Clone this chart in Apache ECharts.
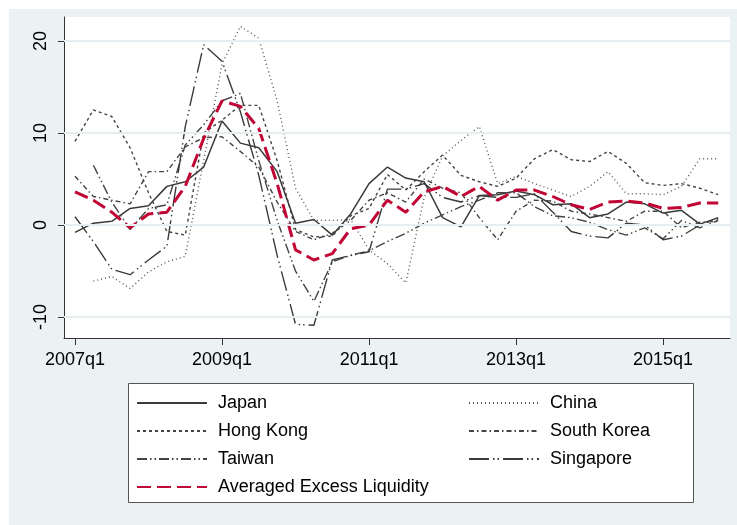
<!DOCTYPE html>
<html><head><meta charset="utf-8">
<script src="https://cdn.jsdelivr.net/npm/echarts@6/dist/echarts.min.js"></script>
<style>html,body{margin:0;padding:0;background:#fff}#c{width:737px;height:525px}</style>
</head><body><div id="c"></div>
<script>
// x positions are quarter indices: 0 = 2007q1 ... 35 = 2015q4
const tickIndex = [0, 8, 16, 24, 32];
const tickLabels = ['2007q1', '2009q1', '2011q1', '2013q1', '2015q1'];
const yTicks = [-10, 0, 10, 20];

const japan      = [-0.8, 0.2, 0.4, 1.8, 2.1, 4.2, 4.7, 6.3, 11.3, 8.9, 8.4, 5.8, 0.2, 0.6, -1.1, 1.2, 4.5, 6.3, 5.1, 4.7, 0.8, -0.2, 3.2, 3.3, 3.7, 3.3, 2.2, 2.3, 0.8, 1.2, 2.5, 2.3, 1.3, 1.6, 0.1, 0.8];
const china      = [null, -6.1, -5.6, -6.9, -5.1, -4.0, -3.4, 7.0, 17.5, 21.6, 20.3, 13.5, 4.0, 0.5, 0.5, 0.6, -2.7, -4.2, -6.3, 3.0, 7.5, 9.2, 10.7, 4.5, 5.3, 4.5, 3.8, 3.1, 4.2, 5.8, 3.4, 3.4, 3.3, 4.2, 7.2, 7.2];
const hongKong   = [9.1, 12.5, 11.8, 8.4, 3.5, -0.7, -1.1, 10.0, 11.4, 13.0, 13.0, 7.0, -0.5, -1.3, -1.2, 1.0, 1.8, 5.5, 3.8, 5.8, 7.6, 5.4, 4.7, 4.2, 5.1, 7.2, 8.2, 7.1, 6.9, 8.0, 6.7, 4.6, 4.3, 4.5, 4.0, 3.3];
const southKorea = [5.3, 3.1, 2.7, 2.3, 5.8, 5.8, 8.5, 9.5, 9.6, 8.0, 6.3, 2.5, -0.7, -1.6, -0.9, 0.5, 2.7, 3.5, 2.5, 5.0, 4.0, 3.5, 0.8, -1.6, 1.5, 2.7, 2.6, 1.5, 1.2, 0.8, 0.4, 1.5, 1.5, -0.3, 0.3, 0.4];
const taiwan     = [null, 6.5, 2.5, -0.5, 1.8, 2.2, 8.7, 10.9, 13.5, 14.3, 7.0, 0.5, -5.0, -8.3, -4.0, -3.3, -2.8, -1.8, -0.9, 0.2, 1.1, 2.0, 2.7, 3.5, 3.5, 2.0, 1.0, 0.8, 0.3, -0.5, -1.1, -0.3, -1.5, 0.5, -0.3, 0.5];
const singapore  = [0.9, -1.8, -4.8, -5.4, -3.8, -2.3, 10.7, 19.6, 17.8, 12.3, 5.4, -3.3, -10.8, -10.9, -3.8, -3.3, -2.9, 3.9, 3.9, 4.5, 3.0, 2.5, 3.2, 3.0, 3.0, 3.4, 1.4, -0.7, -1.2, -1.4, 0.2, 0.0, -1.6, -1.2, 0.0, 0.7];
const averaged   = [3.6, 2.7, 1.4, -0.3, 1.2, 1.4, 4.2, 9.4, 13.5, 12.9, 10.5, 4.5, -2.7, -3.8, -3.1, -0.4, 0.0, 2.7, 1.4, 3.6, 4.2, 3.1, 4.2, 2.7, 3.8, 3.8, 3.1, 2.2, 1.7, 2.5, 2.6, 2.4, 1.8, 1.9, 2.4, 2.4];

const FONT = 'Liberation Sans, Arial, sans-serif';
function pts(arr) { return arr.map((v, i) => [i, v]); }
function grayLine(name, arr, type, color, width) {
  return {
    name: name, type: 'line', data: pts(arr), symbol: 'none', z: 3,
    connectNulls: false, animation: false,
    lineStyle: { color: color, width: width, type: type },
    itemStyle: { color: color }
  };
}

const chart = echarts.init(document.getElementById('c'), null, { renderer: 'canvas' });
const legendCommon = {
  orient: 'vertical', itemWidth: 70, itemHeight: 14, itemGap: 10,
  selectedMode: false, itemStyle: { opacity: 0 },
  textStyle: { fontSize: 18, color: '#000', fontFamily: FONT, padding: [0, 0, 0, 6] }
};
chart.setOption({
  backgroundColor: '#ffffff',
  animation: false,
  graphic: [
    { type: 'rect', z: -100, silent: true, shape: { x: 9, y: 9, width: 728, height: 516 }, style: { fill: '#eaf2f3' } },
    { type: 'rect', z: 1, silent: true, shape: { x: 128.5, y: 383.5, width: 565, height: 119 }, style: { fill: '#ffffff', stroke: '#555555', lineWidth: 1 } }
  ],
  grid: { left: 64, right: 7, top: 17, bottom: 187, show: true, backgroundColor: '#ffffff', borderWidth: 0, containLabel: false },
  xAxis: {
    type: 'value', min: -0.598, max: 35.64,
    splitLine: { show: false },
    axisLine: { show: true, onZero: false, lineStyle: { color: '#333', width: 1 } },
    axisTick: { show: true, length: 7, customValues: tickIndex, lineStyle: { color: '#333' } },
    axisLabel: {
      customValues: tickIndex, margin: 13, fontSize: 18, color: '#000', fontFamily: FONT,
      formatter: function (v) { const k = tickIndex.indexOf(Math.round(v)); return k >= 0 ? tickLabels[k] : ''; }
    }
  },
  yAxis: {
    type: 'value', min: -12.28, max: 22.61,
    splitLine: { show: false },
    axisLine: { show: true, onZero: false, lineStyle: { color: '#333', width: 1 } },
    axisTick: { show: true, length: 6, customValues: yTicks, lineStyle: { color: '#333' } },
    axisLabel: { customValues: yTicks, rotate: 90, margin: 14, fontSize: 18, color: '#000', fontFamily: FONT }
  },
  legend: [
    Object.assign({}, legendCommon, { left: 131, top: 389, data: ['Japan', 'Hong Kong', 'Taiwan', 'Averaged Excess Liquidity'] }),
    Object.assign({}, legendCommon, { left: 463, top: 389, data: ['China', 'South Korea', 'Singapore'] })
  ],
  series: [
    {
      name: 'grid', type: 'line', data: [], z: 1, silent: true,
      markLine: {
        silent: true, symbol: 'none', label: { show: false },
        lineStyle: { color: '#e6eef1', width: 2, type: 'solid' },
        data: yTicks.map(v => ({ yAxis: v }))
      }
    },
    grayLine('Japan', japan, 'solid', '#3a3a3a', 1.5),
    grayLine('China', china, [1, 3], '#555555', 1.4),
    grayLine('Hong Kong', hongKong, [3, 3], '#444444', 1.4),
    grayLine('South Korea', southKorea, [5, 3, 1.5, 3], '#444444', 1.4),
    grayLine('Taiwan', taiwan, [10, 3, 1.5, 3, 1.5, 3], '#444444', 1.4),
    grayLine('Singapore', singapore, [20, 4, 1.5, 3, 1.5, 4], '#3a3a3a', 1.4),
    {
      name: 'Averaged Excess Liquidity', type: 'line', data: pts(averaged), symbol: 'none', z: 4,
      lineStyle: { color: '#c10534', width: 3, type: [14, 6] }, itemStyle: { color: '#c10534' }
    }
  ]
});
</script></body></html>
